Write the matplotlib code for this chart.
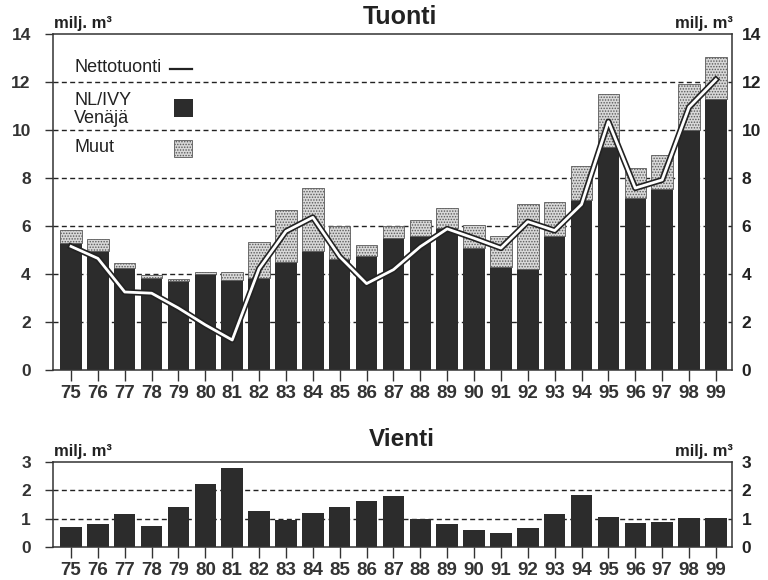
import matplotlib
matplotlib.use('Agg')
import matplotlib.pyplot as plt
import matplotlib.patheffects as pe
from matplotlib.patches import Rectangle
from matplotlib.lines import Line2D
import numpy as np

plt.rcParams['font.family'] = ['Liberation Sans', 'DejaVu Sans']
plt.rcParams['hatch.linewidth'] = 0.7

# Data (milj. m3), years 1975-1999
years = ['75', '76', '77', '78', '79', '80', '81', '82', '83', '84', '85', '86', '87',
         '88', '89', '90', '91', '92', '93', '94', '95', '96', '97', '98', '99']
venaja = [5.28, 4.96, 4.26, 3.84, 3.72, 3.99, 3.77, 3.82, 4.49, 4.96, 4.63, 4.76, 5.49,
          5.60, 5.90, 5.07, 4.28, 4.19, 5.60, 7.08, 9.31, 7.18, 7.54, 10.00, 11.28]
muut = [0.55, 0.48, 0.18, 0.10, 0.06, 0.11, 0.33, 1.53, 2.18, 2.61, 1.38, 0.45, 0.51,
        0.65, 0.84, 0.96, 1.32, 2.71, 1.41, 1.43, 2.18, 1.25, 1.42, 1.92, 1.75]
nettotuonti = [5.15, 4.65, 3.25, 3.20, 2.58, 1.88, 1.25, 4.22, 5.78, 6.36, 4.72, 3.60, 4.18,
               5.14, 5.88, 5.49, 5.08, 6.18, 5.81, 6.90, 10.35, 7.58, 7.92, 10.95, 12.10]
vienti = [0.71, 0.81, 1.18, 0.75, 1.41, 2.21, 2.80, 1.26, 0.94, 1.21, 1.40, 1.64, 1.81,
          1.00, 0.81, 0.60, 0.48, 0.68, 1.16, 1.82, 1.06, 0.85, 0.88, 1.01, 1.01]

DARK = '#2c2c2c'
AXCOL = '#333333'
TXT = '#222222'
STIPPLE = '#d8d8d8'
x = np.arange(len(years))

fig = plt.figure(figsize=(7.68, 5.8), dpi=100)
ax1 = fig.add_axes([53/768, 1 - 370/580, 679/768, 336/580])
ax2 = fig.add_axes([53/768, 1 - 547/580, 679/768, 85/580])


def style_axis(ax, ymax, yticks):
    ax.set_xlim(-0.67, len(years) - 1 + 0.6)
    ax.set_ylim(0, ymax)
    ax.set_yticks(yticks)
    ax.set_yticklabels([str(v) for v in yticks], fontweight='bold', fontsize=12.5, color=TXT)
    ax.set_xticks(x)
    ax.set_xticklabels(years, family=['Liberation Sans Narrow', 'Liberation Sans'],
                       fontweight='bold', fontsize=13.5, color=TXT)
    ax.tick_params(axis='y', direction='out', length=6, width=1.0, pad=10, colors=AXCOL)
    ax.tick_params(axis='x', direction='out', length=8, width=1.0, pad=3, colors=AXCOL)
    for s in ax.spines.values():
        s.set_color(AXCOL)
        s.set_linewidth(1.1)
    # dashed grid lines behind bars
    for v in yticks[1:-1]:
        ax.axhline(v, color=TXT, lw=1.0, ls=(0, (3.6, 2.4)), zorder=0)
    # right-hand scale
    axr = ax.twinx()
    axr.set_ylim(0, ymax)
    axr.set_yticks(yticks)
    axr.set_yticklabels([str(v) for v in yticks], fontweight='bold', fontsize=12.5, color=TXT)
    axr.tick_params(axis='y', length=0, pad=7)
    for s in axr.spines.values():
        s.set_visible(False)


# --- Tuonti ---
ax1.bar(x, venaja, width=0.8, color=DARK, linewidth=0, zorder=2)
ax1.bar(x, muut, bottom=venaja, width=0.8, facecolor=STIPPLE, edgecolor='#5a5a5a',
        hatch='......', linewidth=0.6, zorder=2)
ax1.plot(x, nettotuonti, color='white', lw=2.0, zorder=4,
         path_effects=[pe.Stroke(linewidth=4.4, foreground=TXT), pe.Normal()])
style_axis(ax1, 14, [0, 2, 4, 6, 8, 10, 12, 14])

# legend drawn by hand
ax1.text(0.031, 0.900, 'Nettotuonti', transform=ax1.transAxes, fontsize=13,
         va='center', ha='left', color=TXT)
ax1.add_line(Line2D([0.173, 0.204], [0.896, 0.896], transform=ax1.transAxes,
                    color=TXT, lw=1.6))
ax1.text(0.031, 0.776, 'NL/IVY\nVenäjä', transform=ax1.transAxes, fontsize=13,
         va='center', ha='left', color=TXT, linespacing=1.05)
ax1.add_patch(Rectangle((0.178, 0.753), 0.028, 0.054, transform=ax1.transAxes,
                        facecolor=DARK, edgecolor='none', zorder=5))
ax1.text(0.031, 0.661, 'Muut', transform=ax1.transAxes, fontsize=13,
         va='center', ha='left', color=TXT)
ax1.add_patch(Rectangle((0.178, 0.634), 0.026, 0.051, transform=ax1.transAxes,
                        facecolor=STIPPLE, edgecolor='#5a5a5a', hatch='......',
                        linewidth=0.6, zorder=5))

# --- Vienti ---
ax2.bar(x, vienti, width=0.8, color=DARK, linewidth=0, zorder=2)
style_axis(ax2, 3, [0, 1, 2, 3])

# titles and unit labels
fig.text(400/768, 1 - 17/580, 'Tuonti', fontsize=18, fontweight='bold',
         ha='center', va='center', color=TXT)
fig.text(402/768, 1 - 440/580, 'Vienti', fontsize=17.5, fontweight='bold',
         ha='center', va='center', color=TXT)
for yb in (28, 456):
    fig.text(54/768, 1 - yb/580, 'milj. m³', fontsize=12, fontweight='bold',
             ha='left', va='baseline', color=TXT)
    fig.text(733/768, 1 - yb/580, 'milj. m³', fontsize=12, fontweight='bold',
             ha='right', va='baseline', color=TXT)

fig.savefig('out.png', dpi=100, facecolor='white')
